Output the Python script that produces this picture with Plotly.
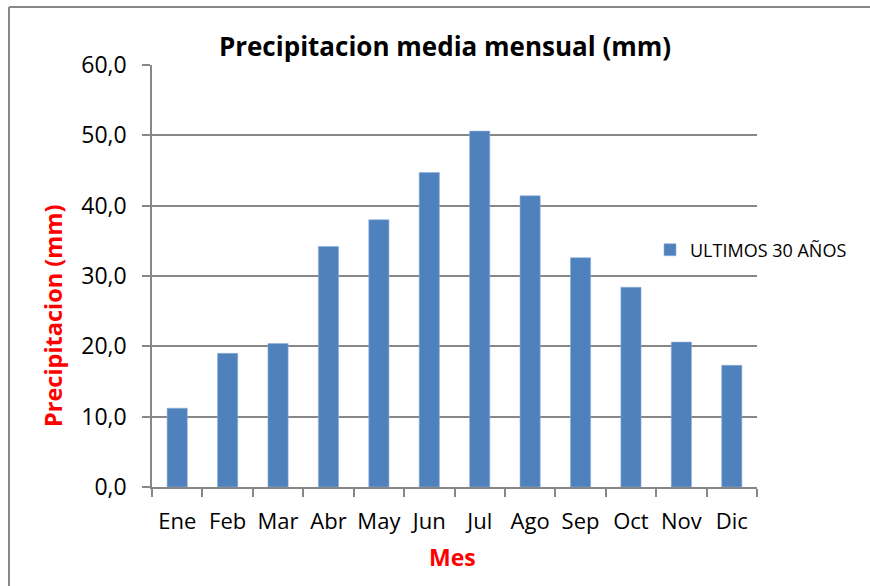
import plotly.graph_objects as go

months = ["Ene", "Feb", "Mar", "Abr", "May", "Jun", "Jul", "Ago", "Sep", "Oct", "Nov", "Dic"]
precip = [11.2, 19.0, 20.4, 34.2, 38.0, 44.7, 50.6, 41.4, 32.6, 28.4, 20.6, 17.3]
series_name = "ULTIMOS 30 AÑOS"
y_ticks = [0, 10, 20, 30, 40, 50, 60]

W, H = 870, 586
L, R, T, B = 152, 113, 65, 99
pw, ph = W - L - R, H - T - B

def px_x(x):
    return (x - L) / pw

def px_y(y):
    return (H - B - y) / ph

FONT = "Open Sans"
AX = "#878787"

fig = go.Figure()
fig.add_trace(go.Bar(
    x=months, y=precip, name=series_name, width=0.4,
    marker=dict(color="#4F81BD", line=dict(color="#8FAEDB", width=0.6)),
    showlegend=True,
))

fig.update_layout(
    width=W, height=H,
    margin=dict(l=L, r=R, t=T, b=B, autoexpand=False),
    paper_bgcolor="white", plot_bgcolor="white",
    separators=",.",
    font=dict(family=FONT, size=22, color="black"),
    title=dict(text="<b>Precipitacion media mensual (mm)</b>", x=445 / W, xanchor="center",
               y=1 - 47 / H, yanchor="middle", font=dict(family=FONT, size=26, color="black")),
    showlegend=True,
    legend=dict(x=px_x(650), xanchor="left", y=px_y(250), yanchor="middle",
                font=dict(family=FONT, size=18, color="black"), bgcolor="rgba(0,0,0,0)"),
    xaxis=dict(
        type="category", range=[-0.5, 11.5], showline=True, linecolor=AX, linewidth=1.5,
        ticks="outside", tickson="boundaries", ticklen=8, tickcolor=AX, tickwidth=1.5,
        showgrid=False, ticklabelstandoff=14, tickangle=0, tickfont=dict(size=22),
    ),
    yaxis=dict(
        range=[0, 60], tickvals=y_ticks, tickformat=".1f", showline=True, linecolor=AX,
        linewidth=1.5, ticks="outside", ticklen=8, tickcolor=AX, tickwidth=1.5,
        showgrid=True, gridcolor=AX, gridwidth=1.5, zeroline=False,
        ticklabelstandoff=11, tickfont=dict(size=23),
    ),
    annotations=[
        dict(text="<b>Precipitacion (mm)</b>", xref="paper", yref="paper", x=px_x(53), y=px_y(316),
             xanchor="center", yanchor="middle", textangle=-90, showarrow=False,
             font=dict(family=FONT, size=23.5, color="#FF0000")),
        dict(text="<b>Mes</b>", xref="paper", yref="paper", x=px_x(452), y=px_y(557),
             xanchor="center", yanchor="middle", showarrow=False,
             font=dict(family=FONT, size=23, color="#FF0000")),
    ],
    shapes=[
        dict(type="line", xref="paper", yref="paper", x0=px_x(9), x1=px_x(872), y0=px_y(7), y1=px_y(7),
             line=dict(color=AX, width=2)),
        dict(type="line", xref="paper", yref="paper", x0=px_x(9), x1=px_x(9), y0=px_y(7), y1=px_y(590),
             line=dict(color=AX, width=2)),
    ],
)

fig.write_html("out.html", config={"displayModeBar": False},
               post_script="document.body.style.margin='0';")
